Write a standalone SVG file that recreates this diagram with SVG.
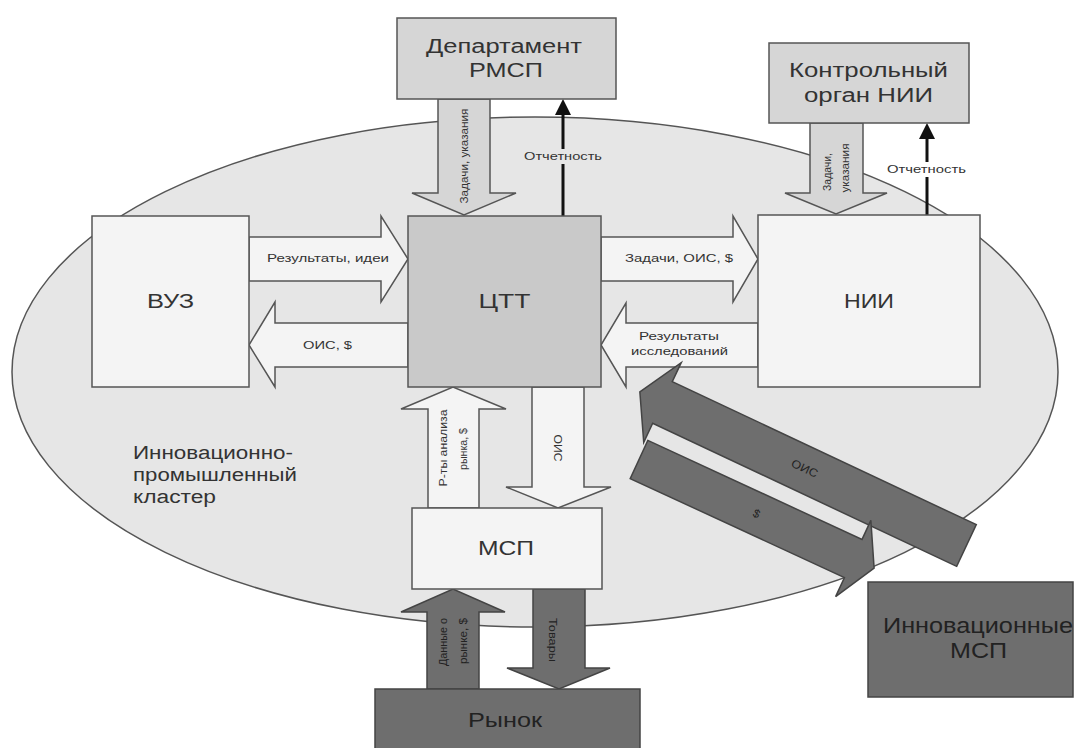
<svg xmlns="http://www.w3.org/2000/svg" width="1078" height="748" viewBox="0 0 1078 748">
<style>
text{font-family:"Liberation Sans",Arial,sans-serif;fill:#333}
.big{font-size:20px}
.sm{font-size:11.5px}
.mid{text-anchor:middle}
.light{fill:#f4f4f4;stroke:#555;stroke-width:1.5}
.mgray{fill:#d6d6d6;stroke:#555;stroke-width:1.5}
.dark{fill:#6e6e6e;stroke:#444;stroke-width:1.5}
.blk{stroke:#111;stroke-width:3}
.dk{fill:#222}
</style>
<rect width="1078" height="748" fill="#fff"/>
<g id="cluster">
<ellipse cx="535" cy="372" rx="523" ry="255" fill="#e6e6e6" stroke="#555" stroke-width="1.5"/>
<text x="133" y="459" font-size="18" textLength="160" lengthAdjust="spacingAndGlyphs">Инновационно-</text>
<text x="133" y="481" font-size="18" textLength="164" lengthAdjust="spacingAndGlyphs">промышленный</text>
<text x="133" y="503" font-size="18" textLength="83" lengthAdjust="spacingAndGlyphs">кластер</text>
</g>
<g id="connectors">
<polygon class="mgray" points="438,99 490,99 490,193 516,193 464,215 412,193 438,193"/>
<text class="sm mid" transform="translate(468,156) rotate(-90)" textLength="95" lengthAdjust="spacingAndGlyphs">Задачи, указания</text>
<polygon class="mgray" points="810,123 863,123 863,193 887,193 836,214 785,193 810,193"/>
<text class="sm mid" transform="translate(831,172) rotate(-90)" textLength="38" lengthAdjust="spacingAndGlyphs">Задачи,</text>
<text class="sm mid" transform="translate(849,168) rotate(-90)" textLength="49" lengthAdjust="spacingAndGlyphs">указания</text>
<line class="blk" x1="563" y1="216" x2="563" y2="112"/>
<polygon fill="#111" points="563,99 571,115 555,115"/>
<rect x="521" y="149" width="84" height="15" fill="#e6e6e6"/>
<text class="sm mid" x="563" y="160" textLength="78" lengthAdjust="spacingAndGlyphs">Отчетность</text>
<line class="blk" x1="927" y1="215" x2="927" y2="136"/>
<polygon fill="#111" points="927,123 935,139 919,139"/>
<rect x="884" y="162" width="86" height="15" fill="#fff"/>
<text class="sm mid" x="926.5" y="173" textLength="79" lengthAdjust="spacingAndGlyphs">Отчетность</text>
<polygon class="light" points="249,237 381,237 381,216 408,259 381,302 381,281 249,281"/>
<text class="sm mid" x="328" y="262" textLength="122" lengthAdjust="spacingAndGlyphs">Результаты, идеи</text>
<polygon class="light" points="408,323 275,323 275,302 249,345 275,387 275,367 408,367"/>
<text class="sm mid" x="327.5" y="349" textLength="49" lengthAdjust="spacingAndGlyphs">ОИС, $</text>
<polygon class="light" points="601,237 733,237 733,216 758,259 733,302 733,281 601,281"/>
<text class="sm mid" x="679" y="262" textLength="108" lengthAdjust="spacingAndGlyphs">Задачи, ОИС, $</text>
<polygon class="light" points="758,323 626,323 626,303 601,345 626,387 626,367 758,367"/>
<text class="sm mid" x="679" y="340" textLength="80" lengthAdjust="spacingAndGlyphs">Результаты</text>
<text class="sm mid" x="679.5" y="355" textLength="97" lengthAdjust="spacingAndGlyphs">исследований</text>
<polygon class="light" points="428,508 428,409 401,409 453,387 506,409 479,409 479,508"/>
<text class="sm mid" transform="translate(447,448) rotate(-90)" textLength="77" lengthAdjust="spacingAndGlyphs">Р-ты анализа</text>
<text class="sm mid" transform="translate(467,449) rotate(-90)" textLength="42" lengthAdjust="spacingAndGlyphs">рынка, $</text>
<polygon class="light" points="532,387 584,387 584,487 611,487 558,508 506,487 532,487"/>
<text class="sm mid" transform="translate(554,448) rotate(90)" textLength="27" lengthAdjust="spacingAndGlyphs">ОИС</text>
<polygon class="dark" points="427,689 427,612 401,612 453,589 505,612 479,612 479,689"/>
<text class="sm mid dk" transform="translate(447,642) rotate(-90)" textLength="48" lengthAdjust="spacingAndGlyphs">Данные о</text>
<text class="sm mid dk" transform="translate(467,641) rotate(-90)" textLength="46" lengthAdjust="spacingAndGlyphs">рынке, $</text>
<polygon class="dark" points="533,589 585,589 585,668 610,668 559,689 507,668 533,668"/>
<text class="sm mid dk" transform="translate(549,640) rotate(90)" textLength="44" lengthAdjust="spacingAndGlyphs">Товары</text>
<polygon class="dark" transform="translate(966.5,545.5) rotate(205.2)" points="0,-23 336,-23 336,-44 361,0 336,44 336,23 0,23"/>
<text class="sm mid dk" transform="translate(803,472) rotate(25)" textLength="28" lengthAdjust="spacingAndGlyphs">ОИС</text>
<polygon class="dark" transform="translate(639,459.5) rotate(24.8)" points="0,-21 236,-21 236,-42 259,0 236,42 236,21 0,21"/>
<text class="sm mid dk" transform="translate(755,517) rotate(25)">$</text>
</g>
<g id="dept">
<rect class="mgray" x="397" y="18" width="219" height="81"/>
<text class="big mid" x="504" y="53" textLength="156" lengthAdjust="spacingAndGlyphs">Департамент</text>
<text class="big mid" x="506" y="77" textLength="74" lengthAdjust="spacingAndGlyphs">РМСП</text>
</g>
<g id="control">
<rect class="mgray" x="769" y="43" width="200" height="80"/>
<text class="big mid" x="868.5" y="77" textLength="159" lengthAdjust="spacingAndGlyphs">Контрольный</text>
<text class="big mid" x="868.5" y="102" textLength="129" lengthAdjust="spacingAndGlyphs">орган НИИ</text>
</g>
<g id="vuz">
<rect class="light" x="92" y="216" width="157" height="171"/>
<text class="big mid" x="170.5" y="308" textLength="47" lengthAdjust="spacingAndGlyphs">ВУЗ</text>
</g>
<g id="ctt">
<rect x="408" y="216" width="193" height="171" fill="#c9c9c9" stroke="#555" stroke-width="1.5"/>
<text class="big mid" x="504.5" y="308" textLength="52" lengthAdjust="spacingAndGlyphs">ЦТТ</text>
</g>
<g id="nii">
<rect class="light" x="758" y="215" width="222" height="172"/>
<text class="big mid" x="869" y="308" textLength="50" lengthAdjust="spacingAndGlyphs">НИИ</text>
</g>
<g id="msp">
<rect class="light" x="412" y="508" width="190" height="81"/>
<text class="big mid" x="506" y="555" textLength="56" lengthAdjust="spacingAndGlyphs">МСП</text>
</g>
<g id="market">
<rect class="dark" x="375" y="689" width="265" height="62"/>
<text class="mid dk" x="505" y="727" font-size="21" textLength="74" lengthAdjust="spacingAndGlyphs">Рынок</text>
</g>
<g id="innov-msp">
<rect class="dark" x="868" y="582" width="205" height="115"/>
<text class="mid dk" x="978" y="633" font-size="22" textLength="190" lengthAdjust="spacingAndGlyphs">Инновационные</text>
<text class="mid dk" x="978.5" y="658" font-size="22" textLength="57" lengthAdjust="spacingAndGlyphs">МСП</text>
</g>
</svg>
